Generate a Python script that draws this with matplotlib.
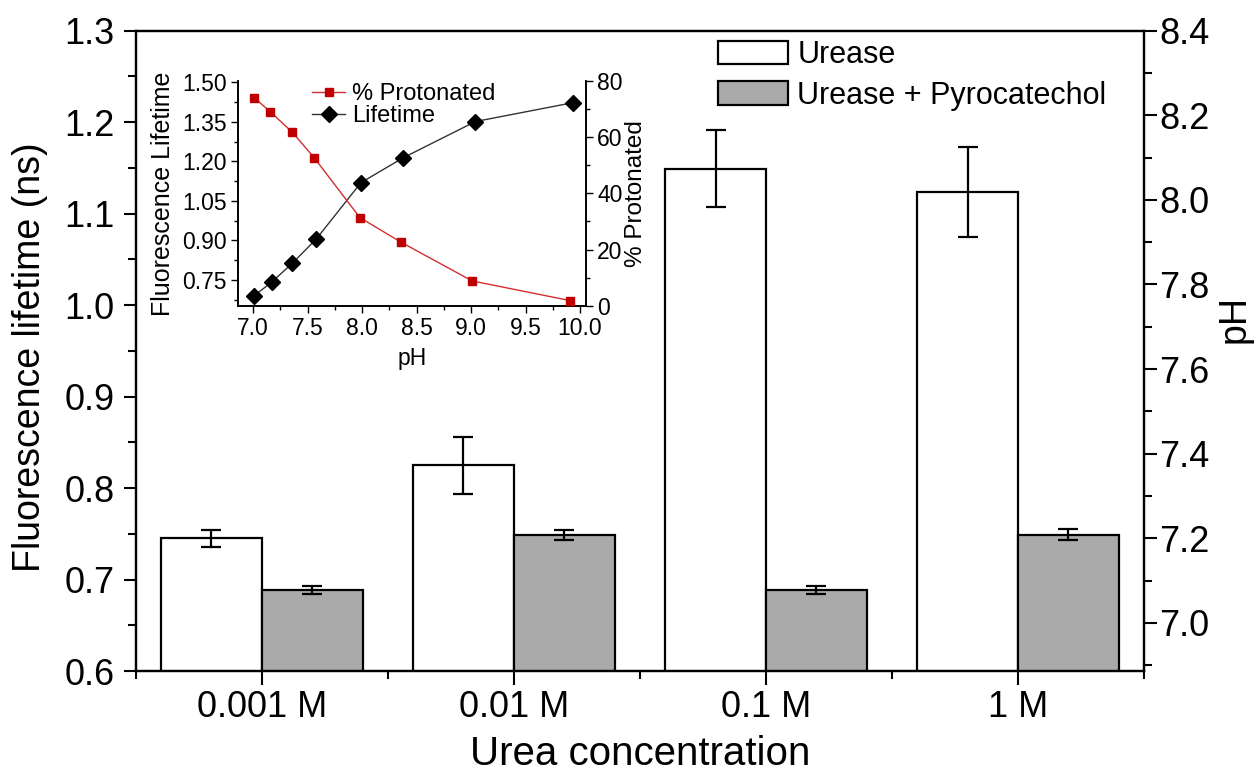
import matplotlib
matplotlib.use("Agg")
import matplotlib.pyplot as plt
from matplotlib.ticker import MultipleLocator, FixedLocator
import numpy as np

# ---------------- data ----------------
categories = ["0.001 M", "0.01 M", "0.1 M", "1 M"]
urease = [0.745, 0.825, 1.149, 1.124]
urease_err = [0.009, 0.031, 0.042, 0.049]
pyro = [0.6885, 0.749, 0.6885, 0.749]
pyro_err = [0.004, 0.0055, 0.004, 0.006]

inset_ph_life = [7.01, 7.17, 7.36, 7.58, 7.99, 8.38, 9.04, 9.94]
inset_lifetime = [0.690, 0.741, 0.813, 0.905, 1.119, 1.214, 1.351, 1.423]
inset_ph_prot = [7.01, 7.16, 7.36, 7.56, 7.98, 8.36, 9.01, 9.91]
inset_protonated = [74.0, 68.9, 61.7, 52.7, 31.4, 22.6, 8.9, 1.9]

plt.rcParams['font.family'] = ['Liberation Sans', 'DejaVu Sans']

fig = plt.figure(figsize=(12.6, 7.76), dpi=100)
ax = fig.add_axes([0.1077, 0.1353, 0.8003, 0.8251])

x = np.arange(1, len(categories) + 1)
w = 0.4
ax.bar(x - w / 2, urease, w, color='white', edgecolor='black',
       linewidth=1.6, label='Urease', zorder=2)
ax.bar(x + w / 2, pyro, w, color='#aaaaaa', edgecolor='black',
       linewidth=1.6, label='Urease + Pyrocatechol', zorder=2)
ax.errorbar(x - w / 2, urease, yerr=urease_err, fmt='none', ecolor='black',
            elinewidth=1.6, capsize=7, capthick=1.6, zorder=3)
ax.errorbar(x + w / 2, pyro, yerr=pyro_err, fmt='none', ecolor='black',
            elinewidth=1.6, capsize=7, capthick=1.6, zorder=3)

ax.set_xlim(0.5, 4.5)
ax.set_ylim(0.6, 1.3)
ax.set_yticks(np.round(np.arange(0.6, 1.31, 0.1), 1))
ax.yaxis.set_minor_locator(MultipleLocator(0.05))
ax.set_yticklabels([f"{v:.1f}" for v in np.arange(0.6, 1.31, 0.1)])
ax.xaxis.set_major_locator(FixedLocator(list(x)))
ax.xaxis.set_minor_locator(FixedLocator([0.5, 1.5, 2.5, 3.5, 4.5]))
ax.set_xticklabels(categories, fontsize=26)
ax.tick_params(axis='y', which='major', direction='out', length=9, width=1.5,
               labelsize=26, pad=6)
ax.tick_params(axis='y', which='minor', direction='out', length=5.5, width=1.5)
ax.tick_params(axis='x', which='major', direction='out', length=10, width=1.5, pad=4)
ax.tick_params(axis='x', which='minor', direction='out', length=6, width=1.5)
for s in ax.spines.values():
    s.set_linewidth(1.6)

ax.set_ylabel("Fluorescence lifetime (ns)", fontsize=27)
ax.yaxis.set_label_coords(-0.087, 0.49)
ax.set_xlabel("Urea concentration", fontsize=29)
ax.xaxis.set_label_coords(0.5, -0.1)

# right pH axis
ax2 = ax.twinx()
ax2.set_ylim(6.886, 8.4)
ax2.set_yticks(np.round(np.arange(7.0, 8.41, 0.2), 1))
ax2.yaxis.set_minor_locator(MultipleLocator(0.1))
ax2.set_yticklabels([f"{v:.1f}" for v in np.arange(7.0, 8.41, 0.2)])
ax2.tick_params(axis='y', which='major', direction='out', length=9, width=1.5,
                labelsize=26, pad=2)
ax2.tick_params(axis='y', which='minor', direction='out', length=5.5, width=1.5)
for s in ax2.spines.values():
    s.set_linewidth(1.6)
ax2.set_ylabel("pH", fontsize=27, rotation=90)
ax2.yaxis.set_label_coords(1.072, 0.55)

leg = ax.legend(loc='upper left', bbox_to_anchor=(718 / 1260, 1 - 40 / 776),
                bbox_transform=fig.transFigure, frameon=False, fontsize=22,
                handlelength=2.3, handleheight=0.8, handletextpad=0.3,
                labelspacing=0.35, borderpad=0, borderaxespad=0)

# ---------------- inset ----------------
ins = fig.add_axes([0.1887, 0.6057, 0.2764, 0.2903])
ins.plot(inset_ph_life, inset_lifetime, color='#333333', linewidth=1.0,
         marker='D', markersize=8, markerfacecolor='black',
         markeredgecolor='black', label='Lifetime', zorder=3)
ins.set_xlim(6.86, 10.055)
ins.set_ylim(0.651, 1.506)
ins.set_xticks(np.arange(7.0, 10.01, 0.5))
ins.xaxis.set_minor_locator(MultipleLocator(0.25))
ins.set_xticklabels([f"{v:.1f}" for v in np.arange(7.0, 10.01, 0.5)])
ins.yaxis.set_major_locator(FixedLocator([0.75, 0.90, 1.05, 1.20, 1.35, 1.50]))
ins.yaxis.set_minor_locator(FixedLocator([0.675, 0.825, 0.975, 1.125, 1.275, 1.425]))
ins.set_yticklabels(["0.75", "0.90", "1.05", "1.20", "1.35", "1.50"])
ins.tick_params(which='major', direction='out', length=5, width=1.0,
                labelsize=16.5, pad=3)
ins.tick_params(which='minor', direction='out', length=3, width=1.0)
for s in ins.spines.values():
    s.set_linewidth(1.2)
ins.spines['top'].set_visible(False)
ins.set_ylabel("Fluorescence Lifetime", fontsize=18, labelpad=5)
ins.set_xlabel("pH", fontsize=16.5, labelpad=5)

ins2 = ins.twinx()
ins2.plot(inset_ph_prot, inset_protonated, color='#d03030', linewidth=1.0,
          marker='s', markersize=6, markerfacecolor='#c00000',
          markeredgecolor='#c00000', label='% Protonated', zorder=3)
ins2.set_ylim(0, 80)
ins2.yaxis.set_major_locator(MultipleLocator(20))
ins2.yaxis.set_minor_locator(MultipleLocator(10))
ins2.tick_params(which='major', direction='out', length=5, width=1.0,
                 labelsize=16.5, pad=3)
ins2.tick_params(which='minor', direction='out', length=3, width=1.0)
for s in ins2.spines.values():
    s.set_linewidth(1.2)
ins2.spines['top'].set_visible(False)
ins2.set_ylabel("% Protonated", fontsize=17.5, labelpad=2)

h1, l1 = ins2.get_legend_handles_labels()
h2, l2 = ins.get_legend_handles_labels()
ins2.legend(h1 + h2, l1 + l2, loc='upper left',
            bbox_to_anchor=(312 / 1260, 1 - 83 / 776), bbox_transform=fig.transFigure,
            frameon=False, fontsize=17, handlelength=1.4, handletextpad=0.3,
            labelspacing=0.0, borderpad=0, borderaxespad=0, numpoints=1)

fig.savefig("out.png", dpi=100)
